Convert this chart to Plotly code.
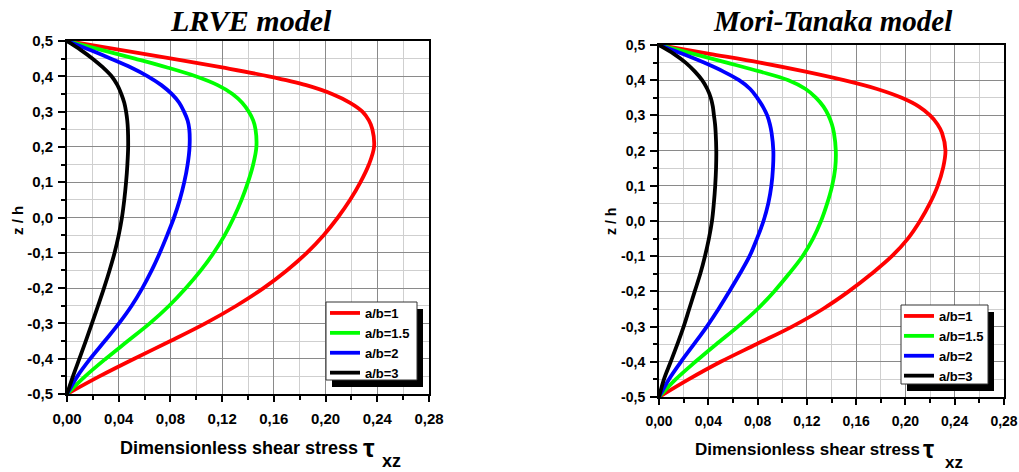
import plotly.graph_objects as go

# Through-thickness coordinate z/h (denser near the top face where the curves bend)
Z = [0.500, 0.475, 0.450, 0.425, 0.400, 0.375, 0.350, 0.325, 0.300, 0.275, 0.250,
     0.20, 0.15, 0.10, 0.05, 0.00, -0.05, -0.10, -0.15, -0.20, -0.25, -0.30,
     -0.35, -0.40, -0.45, -0.50]

SERIES = ["a/b=1", "a/b=1.5", "a/b=2", "a/b=3"]
COLORS = ["#ff0000", "#00ff00", "#0000ff", "#000000"]

# Dimensionless transverse shear stress tau_xz - LRVE model
LRVE_AB1 = [0, 0.041, 0.081, 0.120, 0.156, 0.185, 0.205, 0.219, 0.2285, 0.2335, 0.2362,
            0.2375, 0.2335, 0.2270, 0.2190, 0.2095, 0.1985, 0.1855, 0.170, 0.152, 0.131,
            0.107, 0.080, 0.052, 0.025, 0]
LRVE_AB15 = [0, 0.0265, 0.0525, 0.0775, 0.0995, 0.1165, 0.128, 0.1355, 0.1405, 0.144, 0.1458,
             0.1465, 0.144, 0.140, 0.135, 0.129, 0.122, 0.1135, 0.1035, 0.092, 0.079,
             0.064, 0.047, 0.030, 0.014, 0]
LRVE_AB2 = [0, 0.0175, 0.034, 0.0495, 0.0625, 0.073, 0.081, 0.0868, 0.0905, 0.0933, 0.0946,
            0.0948, 0.0933, 0.0907, 0.0872, 0.0828, 0.0775, 0.0718, 0.0655, 0.0583, 0.050,
            0.0402, 0.0292, 0.018, 0.008, 0]
LRVE_AB3 = [0, 0.0105, 0.0198, 0.0278, 0.0345, 0.039, 0.042, 0.0443, 0.0457, 0.0466, 0.0471,
            0.0473, 0.0467, 0.0457, 0.0443, 0.0425, 0.0400, 0.0368, 0.0329, 0.0286, 0.024,
            0.0193, 0.0145, 0.0096, 0.0046, 0]

# Dimensionless transverse shear stress tau_xz - Mori-Tanaka model
MT_AB1 = [0, 0.041, 0.082, 0.118, 0.150, 0.177, 0.197, 0.211, 0.220, 0.226, 0.2297,
          0.2325, 0.2305, 0.2262, 0.2198, 0.2118, 0.2020, 0.189, 0.1725, 0.154, 0.133,
          0.108, 0.079, 0.050, 0.024, 0]
MT_AB15 = [0, 0.028, 0.055, 0.0815, 0.105, 0.119, 0.1275, 0.1335, 0.1375, 0.1403, 0.142,
           0.1435, 0.1430, 0.1405, 0.1365, 0.1315, 0.125, 0.1165, 0.1055, 0.0935, 0.080,
           0.064, 0.0465, 0.0295, 0.0135, 0]
MT_AB2 = [0, 0.019, 0.0365, 0.052, 0.065, 0.074, 0.0797, 0.0843, 0.0878, 0.0900, 0.0914,
          0.0928, 0.0925, 0.0912, 0.0887, 0.0848, 0.0795, 0.0735, 0.0656, 0.0571, 0.0483,
          0.0388, 0.0284, 0.0178, 0.008, 0]
MT_AB3 = [0, 0.012, 0.0216, 0.029, 0.035, 0.0392, 0.042, 0.0437, 0.0446, 0.0455, 0.046,
          0.0465, 0.0463, 0.0456, 0.0445, 0.043, 0.0405, 0.0373, 0.0335, 0.029, 0.0245,
          0.020, 0.0149, 0.0095, 0.004, 0]

X_TICKS = [0.00, 0.04, 0.08, 0.12, 0.16, 0.20, 0.24, 0.28]
X_TICK_TEXT = ["0,00", "0,04", "0,08", "0,12", "0,16", "0,20", "0,24", "0,28"]
Y_TICKS = [0.5, 0.4, 0.3, 0.2, 0.1, 0.0, -0.1, -0.2, -0.3, -0.4, -0.5]
Y_TICK_TEXT = ["0,5", "0,4", "0,3", "0,2", "0,1", "0,0", "-0,1", "-0,2", "-0,3", "-0,4", "-0,5"]

W, H = 1019, 472
SANS = "Liberation Sans, Arial, sans-serif"
SERIF = "Liberation Serif, Times New Roman, serif"


def px_x(p):
    return p / W


def px_y(p):
    return 1 - p / H


def bold(labels):
    return ["<b>%s</b>" % s for s in labels]


fig = go.Figure()

panels = [
    ("x", "y", "legend", [LRVE_AB1, LRVE_AB15, LRVE_AB2, LRVE_AB3]),
    ("x2", "y2", "legend2", [MT_AB1, MT_AB15, MT_AB2, MT_AB3]),
]
for xa, ya, lg, data in panels:
    for name, color, vals in zip(SERIES, COLORS, data):
        fig.add_trace(go.Scatter(
            x=vals, y=Z, mode="lines", name="<b>%s</b>" % name,
            xaxis=xa, yaxis=ya, legend=lg,
            line=dict(color=color, width=3.8, shape="spline", smoothing=1.0),
        ))


def xaxis(domain, fsize):
    return dict(
        domain=domain, range=[0, 0.28], tickvals=X_TICKS, ticktext=bold(X_TICK_TEXT),
        ticks="outside", ticklen=6, tickwidth=2, tickcolor="black",
        showline=True, linecolor="black", linewidth=2, mirror=True,
        showgrid=True, gridcolor="#8a8a8a", gridwidth=1.4, zeroline=False,
        minor=dict(dtick=0.02, tick0=0, ticks="outside", ticklen=4, tickwidth=1.5,
                   tickcolor="black", showgrid=True, gridcolor="#cfcfcf", gridwidth=1.2),
        tickfont=dict(family=SANS, size=fsize, color="black"),
        ticklabelstandoff=4, automargin=False, fixedrange=True,
    )


def yaxis(domain, fsize, anchor):
    return dict(
        domain=domain, range=[-0.5, 0.5], tickvals=Y_TICKS, ticktext=bold(Y_TICK_TEXT),
        anchor=anchor,
        ticks="outside", ticklen=7, tickwidth=2, tickcolor="black",
        showline=True, linecolor="black", linewidth=2, mirror=True,
        showgrid=True, gridcolor="#8a8a8a", gridwidth=1.4, zeroline=False,
        minor=dict(dtick=0.05, tick0=0, ticks="outside", ticklen=4, tickwidth=1.5,
                   tickcolor="black", showgrid=True, gridcolor="#cfcfcf", gridwidth=1.2),
        tickfont=dict(family=SANS, size=fsize, color="black"),
        ticklabelstandoff=2, automargin=False, fixedrange=True,
    )


# Legend entries sit on a framed white panel with a solid drop shadow
legend_common = dict(
    bgcolor="rgba(0,0,0,0)", borderwidth=0,
    xanchor="left", yanchor="top", itemwidth=30, tracegroupgap=0,
    font=dict(family=SANS, size=13, color="black"),
)

# legend panel boxes: (left, top, right, bottom) in px
BOX1 = (326, 302, 417, 380)
BOX2 = (901, 305, 988, 384)
SHADOW = (6, 7)

fig.update_layout(
    width=W, height=H, margin=dict(l=0, r=0, t=0, b=0, autoexpand=False),
    paper_bgcolor="white", plot_bgcolor="white",
    xaxis=xaxis([px_x(67), px_x(429)], 15),
    yaxis=yaxis([1 - 394 / H, 1 - 41 / H], 15, "x"),
    xaxis2=dict(xaxis([px_x(659), px_x(1004)], 14), anchor="y2"),
    yaxis2=yaxis([1 - 397 / H, 1 - 45 / H], 14, "x2"),
    legend=dict(legend_common, x=px_x(BOX1[0] - 1), y=px_y(BOX1[1] - 4)),
    legend2=dict(legend_common, x=px_x(BOX2[0] - 2), y=px_y(BOX2[1] - 4)),
    showlegend=True,
)

for l, t, r, b in (BOX1, BOX2):
    fig.add_shape(type="rect", xref="paper", yref="paper",
                  x0=px_x(l + SHADOW[0]), x1=px_x(r + SHADOW[0]),
                  y0=px_y(b + SHADOW[1]), y1=px_y(t + SHADOW[1]),
                  fillcolor="black", line=dict(width=0), layer="above")
    fig.add_shape(type="rect", xref="paper", yref="paper",
                  x0=px_x(l), x1=px_x(r), y0=px_y(b), y1=px_y(t),
                  fillcolor="white", line=dict(color="#333333", width=1), layer="above")


def note(text, x, y, size, family=SANS, xanchor="center", angle=0):
    fig.add_annotation(
        text=text, x=px_x(x), y=px_y(y), xref="paper", yref="paper",
        xanchor=xanchor, yanchor="middle", showarrow=False, textangle=angle,
        font=dict(family=family, size=size, color="black"),
    )


# Panel titles
note("<b><i>LRVE model</i></b>", 251, 20, 30, SERIF)
note("<b><i>Mori-Tanaka model</i></b>", 833, 21, 29, SERIF)

# Axis titles
note("<b>z / h</b>", 17, 221, 15, angle=-90)
note("<b>z / h</b>", 611, 222, 14, angle=-90)
for cx, tx, sx, y, fs in [(239, 361, 380, 448, 18), (807, 921, 943, 449, 17)]:
    note("<b>Dimensionless shear stress</b>", cx, y, fs)
    note("<b>τ</b>", tx, y, fs + 8, xanchor="left")
    note("<b>xz</b>", sx, y + 13, fs, xanchor="left")

fig.write_html("out.html")
